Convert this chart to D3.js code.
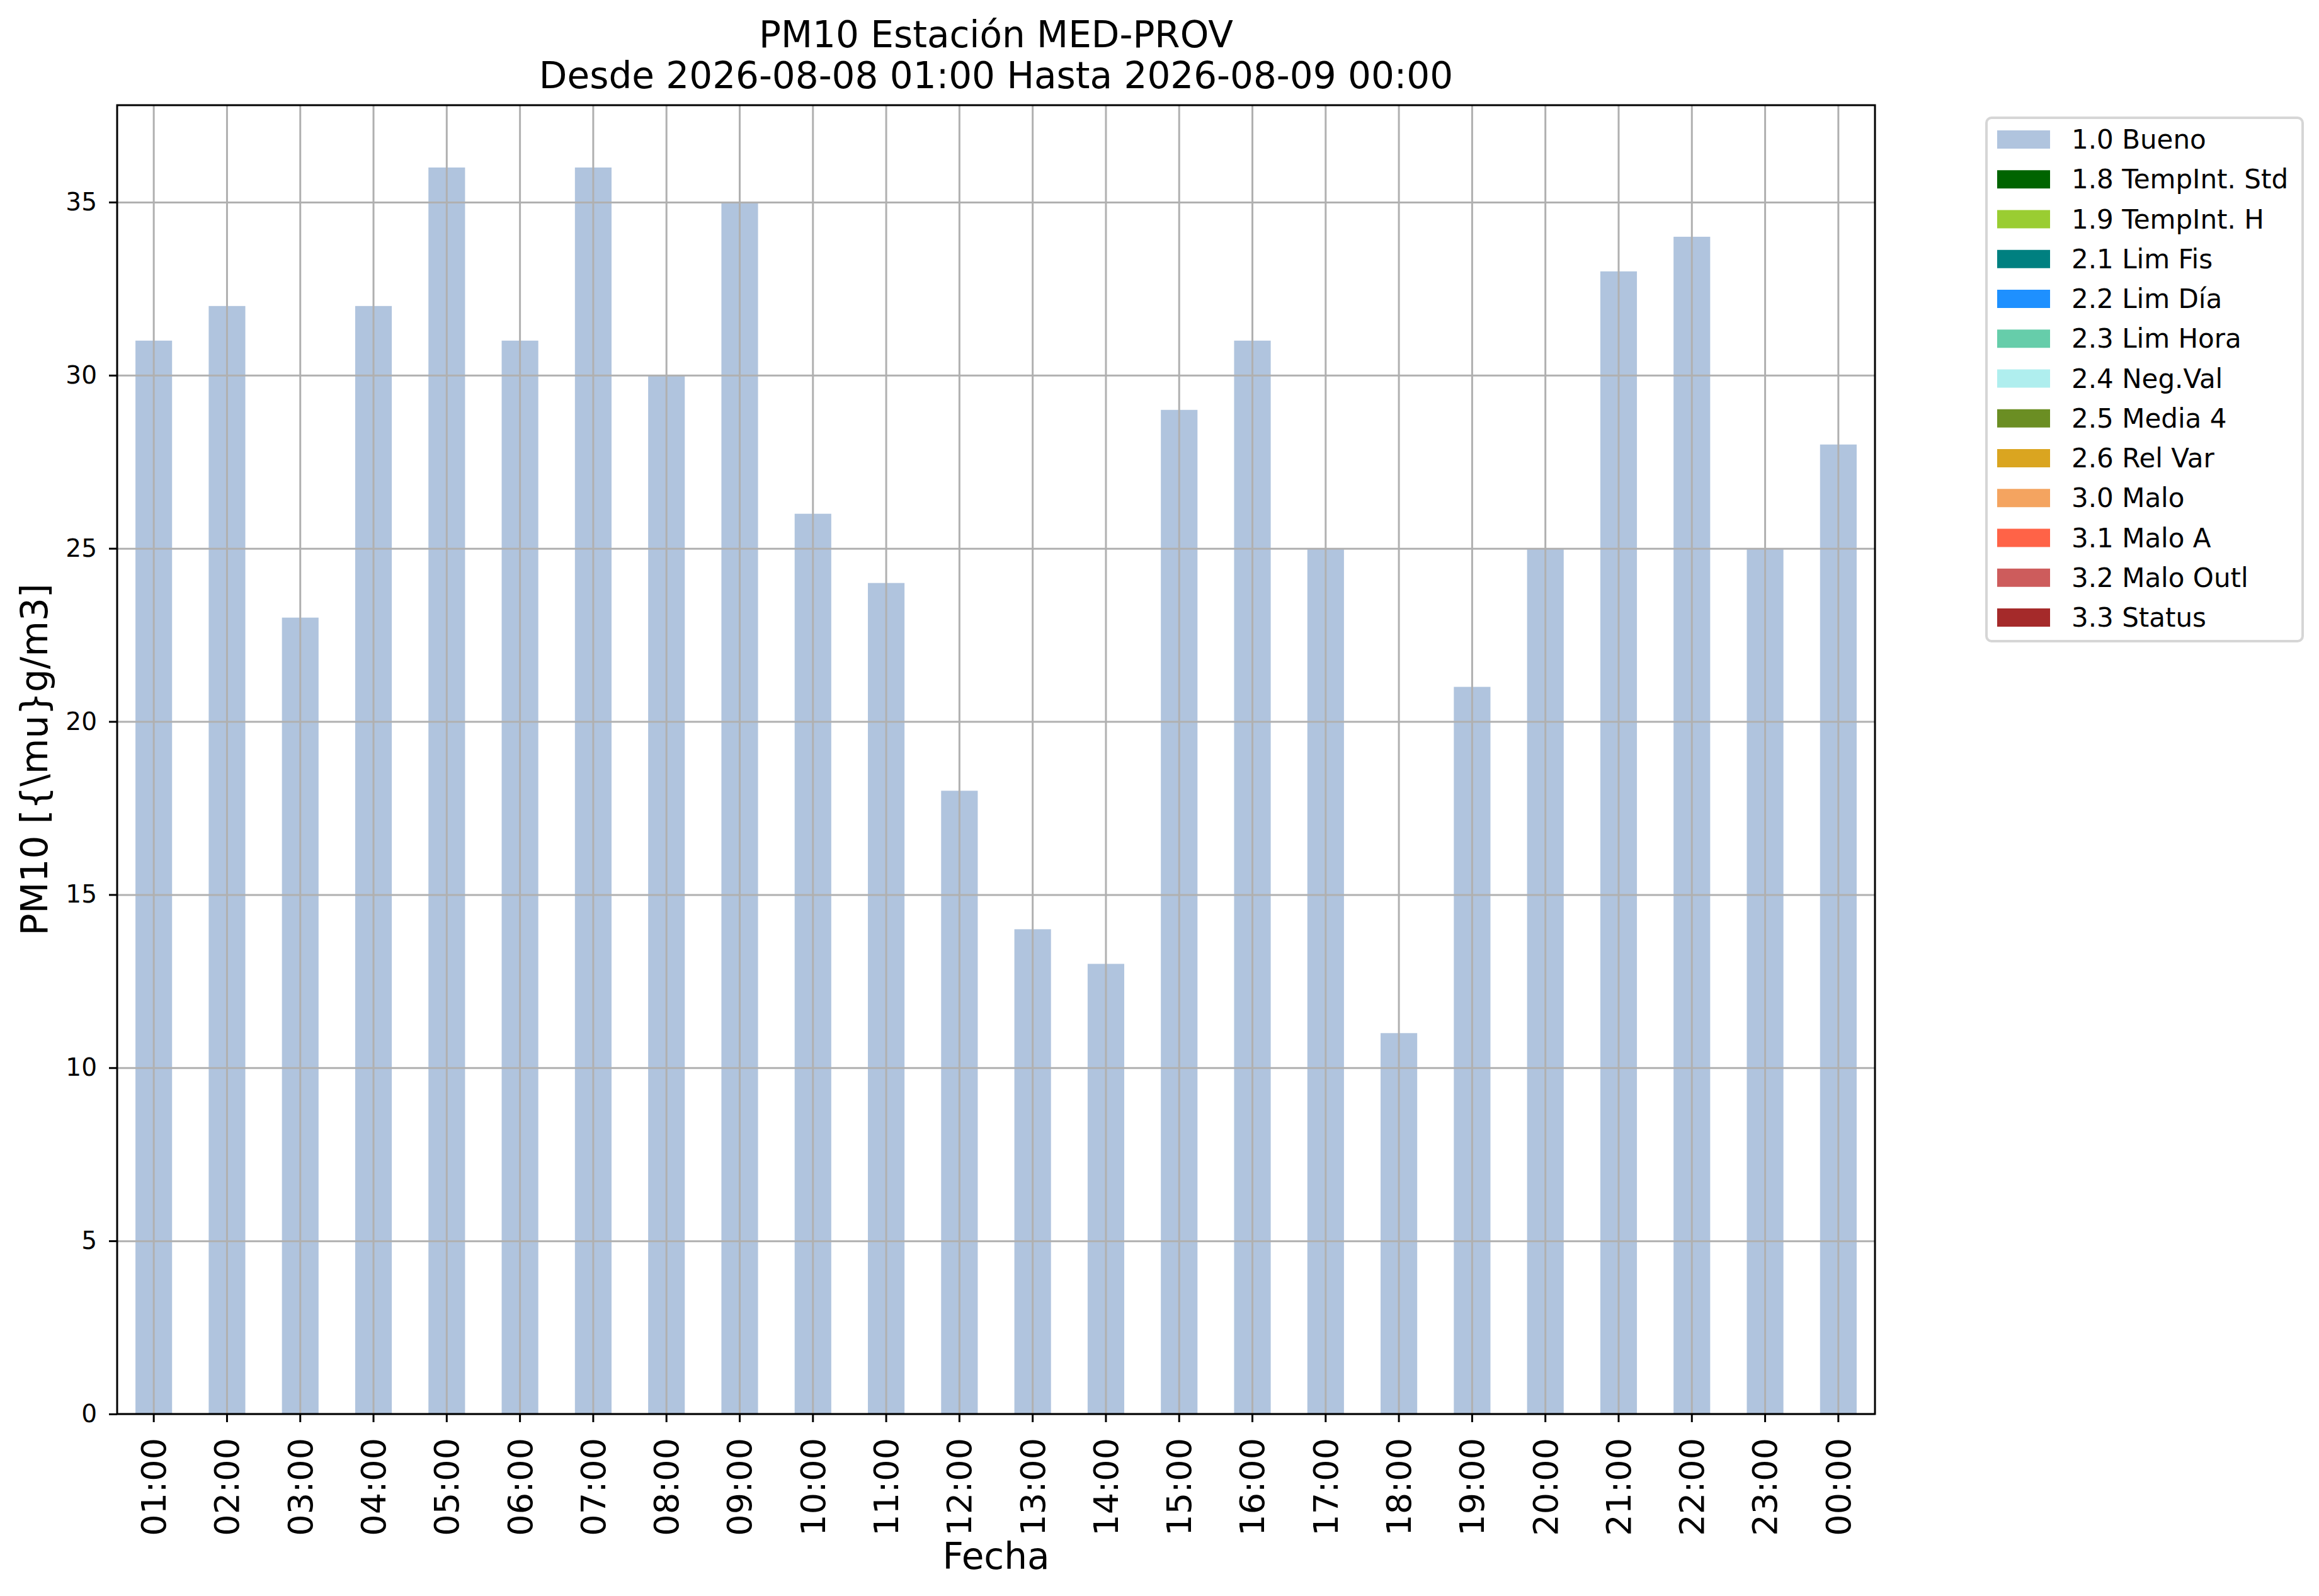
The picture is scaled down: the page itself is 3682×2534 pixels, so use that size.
<!DOCTYPE html>
<html>
<head>
<meta charset="utf-8">
<script src="https://cdn.jsdelivr.net/npm/d3@7"></script>
<style>
  body { margin: 0; background: #fff; }
  text { font-family: "DejaVu Sans", sans-serif; fill: #000; }
</style>
</head>
<body>
<div id="chart"></div>
<script>
// data
var hours = ["01:00","02:00","03:00","04:00","05:00","06:00","07:00","08:00","09:00","10:00","11:00","12:00",
             "13:00","14:00","15:00","16:00","17:00","18:00","19:00","20:00","21:00","22:00","23:00","00:00"];
var pm10 = [31, 32, 23, 32, 36, 31, 36, 30, 35, 26, 24, 18, 14, 13, 29, 31, 25, 11, 21, 25, 33, 34, 25, 28];
var yTicks = [0, 5, 10, 15, 20, 25, 30, 35];
var yMax = 37.8;
var legendLabels = ["1.0 Bueno", "1.8 TempInt. Std", "1.9 TempInt. H", "2.1 Lim Fis", "2.2 Lim Día",
                    "2.3 Lim Hora", "2.4 Neg.Val", "2.5 Media 4", "2.6 Rel Var", "3.0 Malo",
                    "3.1 Malo A", "3.2 Malo Outl", "3.3 Status"];
var legendColors = ["#b0c4de", "#006400", "#9acd32", "#008080", "#1e90ff", "#66cdaa", "#afeeee",
                    "#6b8e23", "#daa520", "#f4a460", "#ff6347", "#cd5c5c", "#a52a2a"];
var titleLines = ["PM10 Estación MED-PROV", "Desde 2026-08-08 01:00 Hasta 2026-08-09 00:00"];

var W = 3682, H = 2534;
// plot box (window.top is reserved, so use other names)
var pLeft = 186, pRight = 2977, pTop = 167, pBottom = 2245;

var svg = d3.select('#chart')
    .append('svg')
    .attr('width', W)
    .attr('height', H);

svg.append('rect').attr('width', W).attr('height', H).attr('fill', '#fff');

var x = d3.scaleBand()
    .domain(hours)
    .range([pLeft, pRight])
    .padding(0);

var y = d3.scaleLinear()
    .domain([0, yMax])
    .range([pBottom, pTop]);

var barW = x.bandwidth() * 0.5;

// bars
svg.append('g')
    .selectAll('rect')
    .data(pm10)
    .enter()
    .append('rect')
    .attr('x', (d, i) => x(hours[i]) + x.bandwidth() / 2 - barW / 2)
    .attr('y', (d) => y(d))
    .attr('width', barW)
    .attr('height', (d) => y(0) - y(d))
    .attr('fill', legendColors[0]);

// grid over the bars
var gridY = svg.append('g')
    .attr('transform', 'translate(' + pLeft + ',0)')
    .call(d3.axisLeft(y).tickValues(yTicks).tickSize(-(pRight - pLeft)).tickFormat(''));
var gridX = svg.append('g')
    .attr('transform', 'translate(0,' + pBottom + ')')
    .call(d3.axisBottom(x).tickSize(-(pBottom - pTop)).tickFormat(''));
[gridY, gridX].forEach(function (g) {
    g.select('.domain').remove();
    g.selectAll('line').attr('stroke', '#b0b0b0').attr('stroke-width', 3);
});

// axes
var yAxis = svg.append('g')
    .attr('transform', 'translate(' + pLeft + ',0)')
    .call(d3.axisLeft(y).tickValues(yTicks).tickSize(13).tickSizeOuter(0).tickPadding(19));
yAxis.select('.domain').remove();
yAxis.selectAll('line').attr('stroke', '#000').attr('stroke-width', 3);
yAxis.selectAll('text').style('font-size', '39px').style('font-family', '"DejaVu Sans", sans-serif');

var xAxis = svg.append('g')
    .attr('transform', 'translate(0,' + pBottom + ')')
    .call(d3.axisBottom(x).tickSize(13).tickSizeOuter(0));
xAxis.select('.domain').remove();
xAxis.selectAll('line').attr('stroke', '#000').attr('stroke-width', 3);
xAxis.selectAll('text')
    .attr('y', 0)
    .attr('x', -38)
    .attr('dy', '0.35em')
    .attr('transform', 'rotate(-90)')
    .style('text-anchor', 'end')
    .style('font-size', '54px')
    .style('font-family', '"DejaVu Sans", sans-serif');

// frame
svg.append('rect')
    .attr('x', pLeft)
    .attr('y', pTop)
    .attr('width', pRight - pLeft)
    .attr('height', pBottom - pTop)
    .attr('fill', 'none')
    .attr('stroke', '#000')
    .attr('stroke-width', 3);

// titles and labels
svg.append('g')
    .selectAll('text')
    .data(titleLines)
    .enter()
    .append('text')
    .attr('x', (pLeft + pRight) / 2)
    .attr('y', (d, i) => 75 + i * 65)
    .attr('text-anchor', 'middle')
    .style('font-size', '58px')
    .text((d) => d);

svg.append('text')
    .attr('x', (pLeft + pRight) / 2)
    .attr('y', 2491)
    .attr('text-anchor', 'middle')
    .style('font-size', '58px')
    .text('Fecha');

svg.append('text')
    .attr('transform', 'translate(75,' + ((pTop + pBottom) / 2) + ') rotate(-90)')
    .attr('text-anchor', 'middle')
    .style('font-size', '58px')
    .text('PM10 [{\\mu}g/m3]');

// legend
var legend = svg.append('g');
legend.append('rect')
    .attr('x', 3154)
    .attr('y', 187)
    .attr('width', 502)
    .attr('height', 831)
    .attr('rx', 8)
    .attr('fill', '#fff')
    .attr('stroke', '#d6d6d6')
    .attr('stroke-width', 4);

var rowY = d3.scalePoint()
    .domain(legendLabels)
    .range([222, 981]);

var rows = legend.selectAll('g.row')
    .data(legendLabels)
    .enter()
    .append('g')
    .attr('class', 'row')
    .attr('transform', (d) => 'translate(0,' + rowY(d) + ')');

rows.append('rect')
    .attr('x', 3171)
    .attr('y', -15)
    .attr('width', 84)
    .attr('height', 29)
    .attr('fill', (d, i) => legendColors[i]);

rows.append('text')
    .attr('x', 3289)
    .attr('y', 14)
    .style('font-size', '42px')
    .text((d) => d);
</script>
</body>
</html>
